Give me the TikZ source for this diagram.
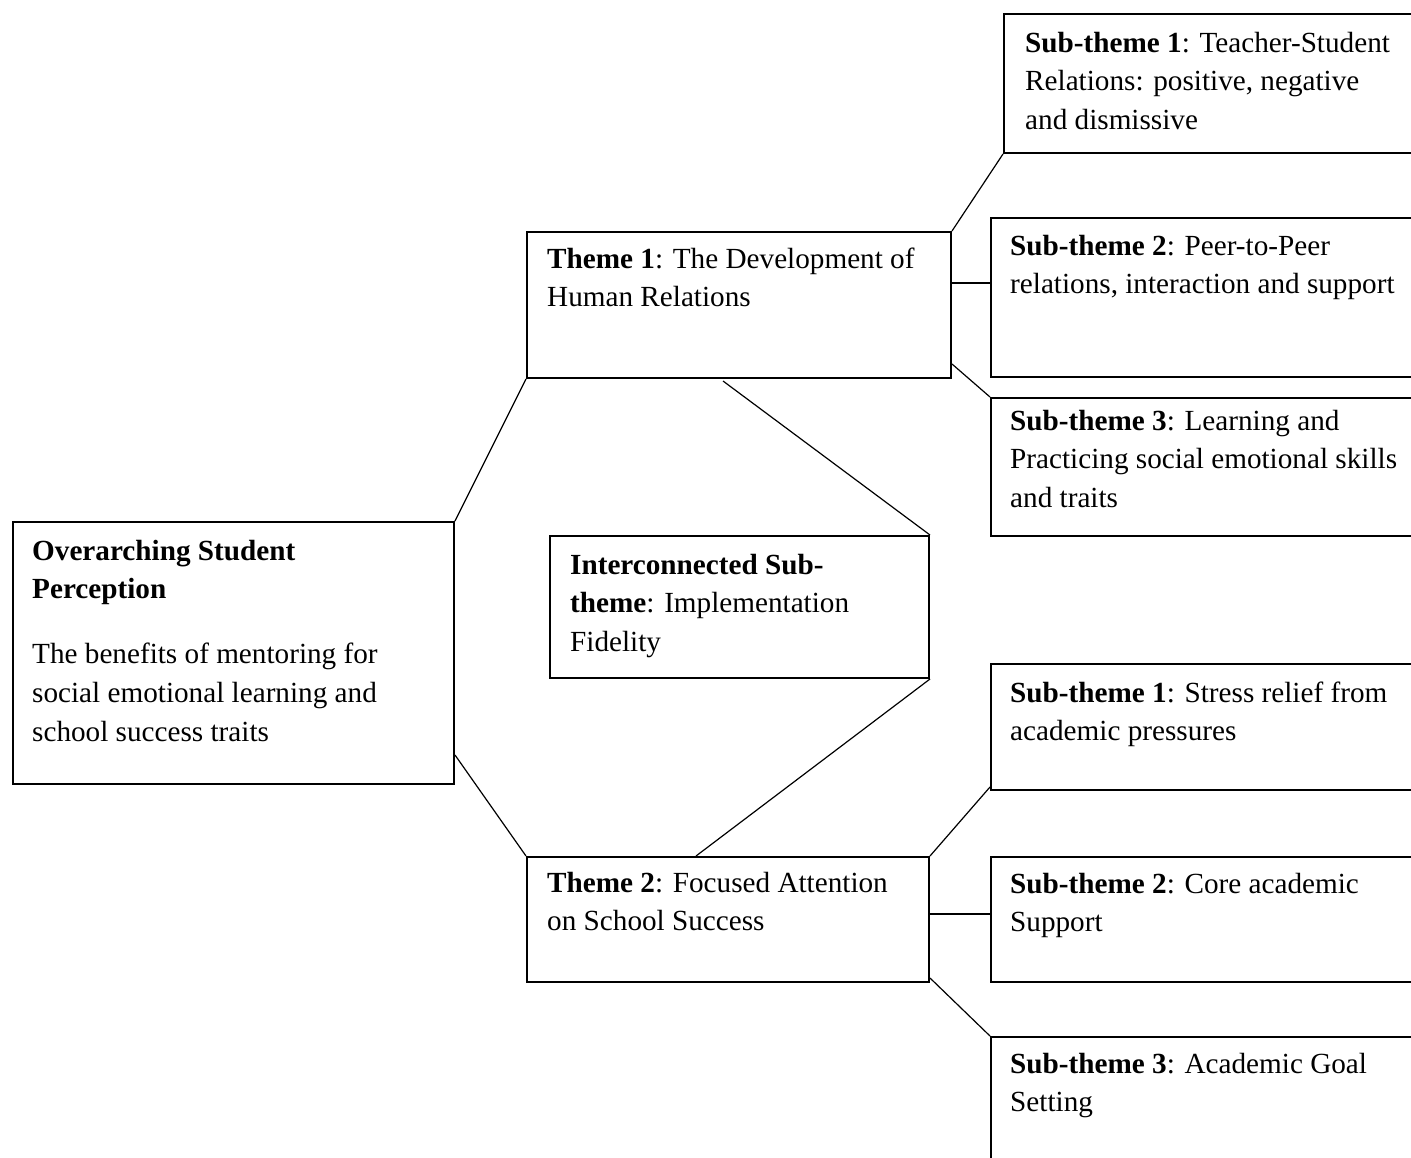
\documentclass[tikz,border=0pt]{standalone}
\usepackage{fontspec}
\setmainfont{Liberation Serif}
\usetikzlibrary{calc}
\begin{document}
\begin{tikzpicture}[x=1pt,y=-1pt,
  box/.style={draw, line width=2pt, rectangle, inner sep=0pt, anchor=north west},
  link/.style={line width=1.2pt},
  % the first line carries a strut, so the node top sits 0.7\baselineskip above the first baseline
  txt/.style={inner sep=0pt, anchor=north west, yshift=27.09pt, align=left,
    font=\fontsize{29.2}{38.7}\selectfont}]
\useasboundingbox (0,0) rectangle (1411,1157);

% frames
\node[box, minimum width=441, minimum height=262] (over)  at (12,521) {};
\node[box, minimum width=424, minimum height=146] (th1)   at (526,231) {};
\node[box, minimum width=379, minimum height=142] (inter) at (549,535) {};
\node[box, minimum width=402, minimum height=125] (th2)   at (526,856) {};
\node[box, minimum width=500, minimum height=139] (s11)   at (1003,13) {};
\node[box, minimum width=500, minimum height=159] (s12)   at (990,217) {};
\node[box, minimum width=500, minimum height=138] (s13)   at (990,397) {};
\node[box, minimum width=500, minimum height=126] (s21)   at (990,663) {};
\node[box, minimum width=500, minimum height=125] (s22)   at (990,856) {};
\node[box, minimum width=500, minimum height=220] (s23)   at (990,1036) {};

% texts (positions are first baselines)
\node[txt] (overtxt) at ($(over.north west)+(20,39)$)
  {\strut\textbf{Overarching Student}\\\textbf{Perception}\\[26pt]The benefits of mentoring for\\social emotional learning and\\school success traits};
\node[txt] (th1txt) at ($(th1.north west)+(21,37)$)
  {\strut\textbf{Theme 1}: The Development of\\Human Relations};
\node[txt] (intertxt) at ($(inter.north west)+(21,39)$)
  {\strut\textbf{Interconnected Sub-}\\\textbf{theme}: Implementation\\Fidelity};
\node[txt] (th2txt) at ($(th2.north west)+(21,36)$)
  {\strut\textbf{Theme 2}: Focused Attention\\on School Success};
\node[txt] (s11txt) at ($(s11.north west)+(22,39)$)
  {\strut\textbf{Sub-theme 1}: Teacher-Student\\Relations: positive, negative\\and dismissive};
\node[txt] (s12txt) at ($(s12.north west)+(20,38)$)
  {\strut\textbf{Sub-theme 2}: Peer-to-Peer\\relations, interaction and support};
\node[txt] (s13txt) at ($(s13.north west)+(20,33)$)
  {\strut\textbf{Sub-theme 3}: Learning and\\Practicing social emotional skills\\and traits};
\node[txt] (s21txt) at ($(s21.north west)+(20,39)$)
  {\strut\textbf{Sub-theme 1}: Stress relief from\\academic pressures};
\node[txt] (s22txt) at ($(s22.north west)+(20,37)$)
  {\strut\textbf{Sub-theme 2}: Core academic\\Support};
\node[txt] (s23txt) at ($(s23.north west)+(20,37)$)
  {\strut\textbf{Sub-theme 3}: Academic Goal\\Setting};

% connectors
\draw[link] (over.north east) -- (th1.south west);
\draw[link] ($(over.south east)+(0,-30)$) -- (th2.north west);
\draw[link] ($(th1.south)+(-16,2)$) -- (inter.north east);
\draw[link] (inter.south east) -- ($(th2.north west)+(170,0)$);
\draw[link] (th1.north east) -- (s11.south west);
\draw[link] ($(th1.north east)+(0,52)$) coordinate (t1m) -- (t1m -| s12.west);
\draw[link] ($(th1.south east)+(0,-15)$) -- (s13.north west);
\draw[link] (th2.north east) -- ($(s21.south west)+(0,-4)$);
\draw[link] ($(th2.north east)+(0,58)$) coordinate (t2m) -- (t2m -| s22.west);
\draw[link] ($(th2.south east)+(0,-5)$) -- (s23.north west);
\end{tikzpicture}
\end{document}
